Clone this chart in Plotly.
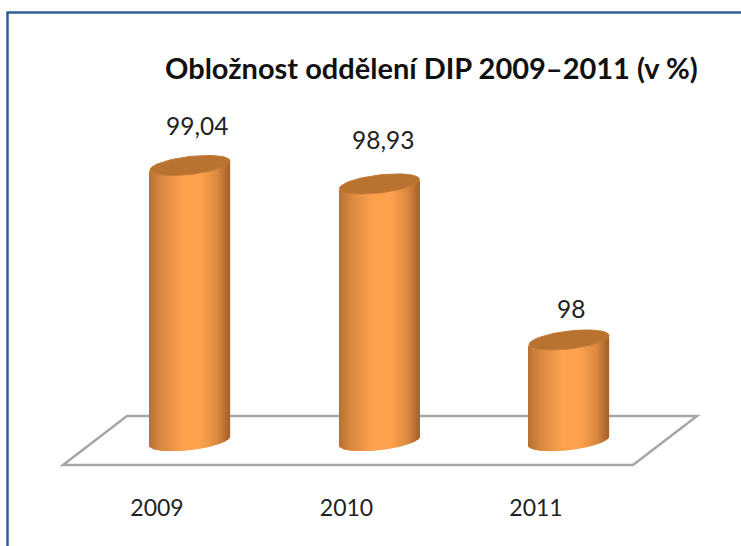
import math
import plotly.graph_objects as go

years = ["2009", "2010", "2011"]
values = [99.04, 98.93, 98.0]
value_labels = ["99,04", "98,93", "98"]
title_text = "Obložnost oddělení DIP 2009–2011 (v %)"
label_shift_y = [40, 44, 32]
label_shift_x = [7, 3, 2]

W, H = 741, 546
ML, MR, MT, MB = 10, 11, 20, 56
PX_PER_CAT = 189.5
PX_PER_UNIT = 167.8
CAT0_PX = 157
BAR_SHIFT = 33 / PX_PER_CAT
BASE_VALUE = 97.398
HALF_W = 40
TILT = 4.5
MINOR = 9.0

xr = [(ML - CAT0_PX) / PX_PER_CAT, (W - MR - CAT0_PX) / PX_PER_CAT]
yr = [98 - (H - MB - 340) / PX_PER_UNIT, 98 + (340 - MT) / PX_PER_UNIT]


def hex2rgb(h):
    return tuple(int(h[i:i + 2], 16) for i in (1, 3, 5))


stops = [(-1, "#b8702f"), (-0.7, "#d98840"), (-0.15, "#fda14d"), (0.3, "#fda14d"), (0.7, "#dc8a40"), (1, "#a5622a")]


def shade(u):
    for (a, ca), (b, cb) in zip(stops, stops[1:]):
        if a <= u <= b:
            t = (u - a) / (b - a)
            c0, c1 = hex2rgb(ca), hex2rgb(cb)
            return "rgb(%d,%d,%d)" % tuple(round(p + (q - p) * t) for p, q in zip(c0, c1))
    return stops[-1][1]


def low(u):
    return (TILT * u - MINOR * math.sqrt(max(0, 1 - u * u))) / PX_PER_UNIT


xs, ys, bases, cols, widths = [], [], [], [], []
STRIPS = 2 * HALF_W
for i, v in enumerate(values):
    for k in range(STRIPS):
        u = (k + 0.5) / STRIPS * 2 - 1
        xs.append(i + BAR_SHIFT + u * HALF_W / PX_PER_CAT)
        ys.append(v - BASE_VALUE)
        bases.append(BASE_VALUE + low(u))
        cols.append(shade(u))
        widths.append(1.3 / PX_PER_CAT)

fig = go.Figure()
fig.add_trace(go.Bar(x=xs, y=ys, base=bases, width=widths,
                     marker=dict(color=cols, line=dict(width=0)),
                     hoverinfo="skip", showlegend=False))

for i, v in enumerate(values):
    ts = [2 * math.pi * k / 72 for k in range(73)]
    fig.add_trace(go.Scatter(
        x=[i + BAR_SHIFT + HALF_W * math.cos(t) / PX_PER_CAT for t in ts],
        y=[v + (TILT * math.cos(t) + MINOR * math.sin(t)) / PX_PER_UNIT for t in ts],
        mode="lines", fill="toself", fillcolor="#b9722f",
        line=dict(color="#c27a36", width=1), hoverinfo="skip", showlegend=False))


def px(x):
    return (x - ML) / (W - ML - MR)


def py(y):
    return 1 - (y - MT) / (H - MT - MB)


annotations = [
    dict(x=i + BAR_SHIFT, y=v, text=value_labels[i], showarrow=False, xanchor="center", yanchor="middle",
         xshift=label_shift_x[i], yshift=label_shift_y[i], font=dict(family="Lato", size=24.5, color="#222222"))
    for i, v in enumerate(values)
]
annotations.append(dict(x=px(431.5), y=py(67), xref="paper", yref="paper", text="<b>%s</b>" % title_text,
                        showarrow=False, xanchor="center", yanchor="middle",
                        font=dict(family="Lato", size=29, color="#111111")))

floor = "M %f %f L %f %f L %f %f L %f %f Z" % (px(63), py(465), px(127), py(416), px(697), py(416), px(633), py(465))
shapes = [
    dict(type="path", xref="paper", yref="paper", path=floor, line=dict(color="#a6a6a6", width=2.5), layer="below"),
    dict(type="line", xref="paper", yref="paper", x0=px(6.5), x1=px(741), y0=py(12.5), y1=py(12.5),
         line=dict(color="#2f5f95", width=2.5), layer="below"),
    dict(type="line", xref="paper", yref="paper", x0=px(7.5), x1=px(7.5), y0=py(12), y1=py(546),
         line=dict(color="#2f5f95", width=2.5), layer="below"),
]

fig.update_layout(
    width=W, height=H, margin=dict(l=ML, r=MR, t=MT, b=MB),
    paper_bgcolor="white", plot_bgcolor="rgba(0,0,0,0)", barmode="overlay", showlegend=False,
    annotations=annotations, shapes=shapes,
    xaxis=dict(range=xr, tickmode="array", tickvals=list(range(len(years))), ticktext=years,
               showgrid=False, zeroline=False, showline=False, ticks="", ticklen=0, ticklabelstandoff=2,
               tickfont=dict(family="Lato", size=23, color="#222222")),
    yaxis=dict(range=yr, visible=False, showgrid=False, zeroline=False),
)

fig.write_html("out.html", config={"displayModeBar": False}, post_script="document.body.style.margin='0';")
